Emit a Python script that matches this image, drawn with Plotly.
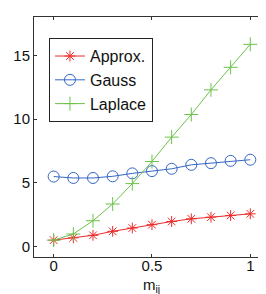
import plotly.graph_objects as go

x_vals = [0, 0.1, 0.2, 0.3, 0.4, 0.5, 0.6, 0.7, 0.8, 0.9, 1.0]
approx = [0.52, 0.70, 0.90, 1.21, 1.47, 1.73, 1.98, 2.19, 2.32, 2.45, 2.58]
gauss = [5.50, 5.39, 5.39, 5.52, 5.75, 5.93, 6.11, 6.42, 6.55, 6.73, 6.82]
laplace = [0.52, 1.00, 2.04, 3.35, 4.95, 6.68, 8.59, 10.36, 12.29, 14.06, 15.86]

x_ticks = [0, 0.5, 1]
x_tick_labels = ["0", "0.5", "1"]
y_ticks = [0, 5, 10, 15]
y_tick_labels = ["0", "5", "10", "15"]
x_title = "m<sub>ij</sub>"

fig = go.Figure()
fig.add_trace(go.Scatter(x=x_vals, y=approx, name="Approx.", mode="lines+markers",
                         line=dict(color="#ec2b2b", width=1),
                         marker=dict(symbol="asterisk-open", size=9, line=dict(color="#ec2b2b", width=1))))
fig.add_trace(go.Scatter(x=x_vals, y=gauss, name="Gauss", mode="lines+markers",
                         line=dict(color="#3566c4", width=1),
                         marker=dict(symbol="circle-open", size=11, line=dict(color="#3566c4", width=1))))
fig.add_trace(go.Scatter(x=x_vals, y=laplace, name="Laplace", mode="lines+markers",
                         line=dict(color="#6cc24a", width=1),
                         marker=dict(symbol="cross-thin-open", size=10, line=dict(color="#6cc24a", width=1))))

axis_common = dict(showgrid=False, zeroline=False, showline=True, linecolor="#333333", linewidth=1,
                   mirror="ticks", ticks="inside", ticklen=3, tickcolor="#333333",
                   tickfont=dict(family="Liberation Sans, Arial, sans-serif", size=15, color="#111111"))

fig.update_layout(
    width=266, height=294,
    margin=dict(l=22, r=5, t=9, b=45),
    paper_bgcolor="white", plot_bgcolor="white",
    font=dict(family="Liberation Sans, Arial, sans-serif", size=14, color="#111111"),
    xaxis=dict(range=[-0.1, 1.09], tickvals=x_ticks, ticktext=x_tick_labels,
               ticklabelstandoff=-5, **axis_common),
    yaxis=dict(range=[-0.8, 18], tickvals=y_ticks, ticktext=y_tick_labels, **axis_common),
    legend=dict(x=0.064, y=0.912, xanchor="left", yanchor="top", bgcolor="white",
                bordercolor="#222222", borderwidth=1, font=dict(size=16),
                tracegroupgap=0, itemwidth=30),
    showlegend=True,
)
fig.add_annotation(text=x_title, xref="paper", yref="paper", x=0.5, y=-0.12,
                   xanchor="center", yanchor="middle", showarrow=False,
                   font=dict(family="Liberation Sans, Arial, sans-serif", size=15, color="#111111"))

fig.write_html("out.html")
